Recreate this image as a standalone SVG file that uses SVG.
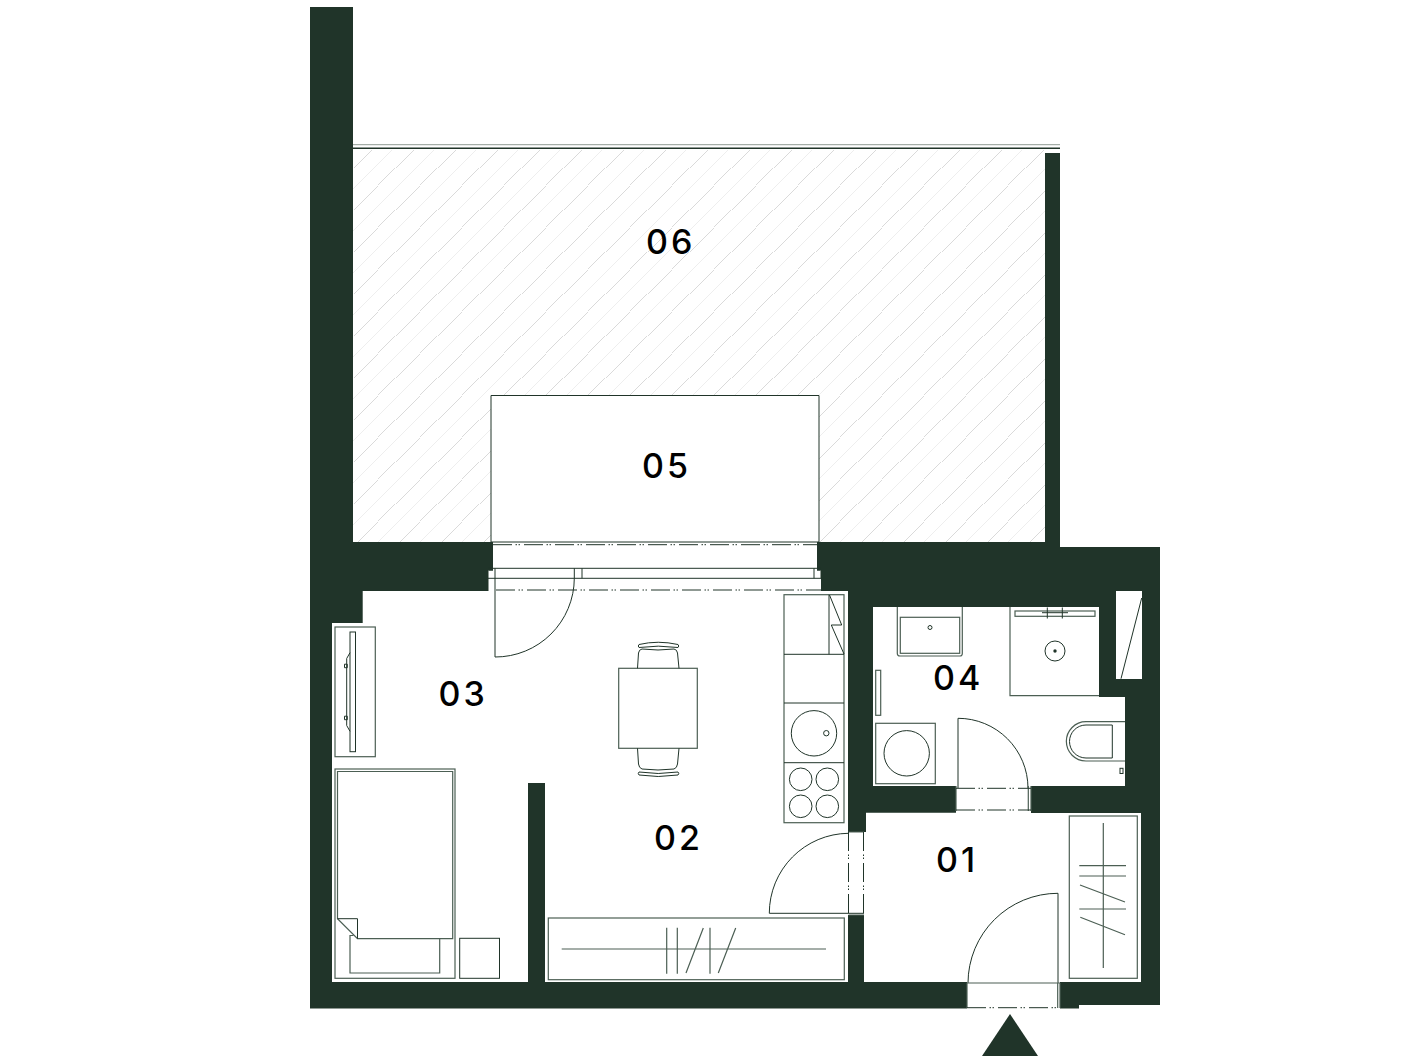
<svg xmlns="http://www.w3.org/2000/svg" width="1418" height="1056" viewBox="0 0 1418 1056">
<style>
.wall{fill:#203429}
.l{fill:none;stroke:#203429;stroke-width:1}
.w{fill:#fff;stroke:#203429;stroke-width:1}
.g{fill:none;stroke:#4c5f54;stroke-width:1.2}
.dd{fill:none;stroke:#203429;stroke-width:1;stroke-dasharray:19 3.5 1.5 1.5 1.5 4}
.t{font-family:"Inter","Liberation Sans",sans-serif;font-size:34px;font-weight:500;letter-spacing:3px;fill:#000}
</style>
<defs>
<pattern id="hatch" patternUnits="userSpaceOnUse" width="42" height="42">
<path d="M-1 18L18 -1M17 43L43 17" fill="none" stroke="#d6d6d6" stroke-width="0.9"/>
<path d="M-1 39L39 -1M37 43L43 37" fill="none" stroke="#ececec" stroke-width="0.9"/>
</pattern>
</defs>
<rect width="1418" height="1056" fill="#fff"/>
<g id="room-06">
<rect x="353" y="150" width="692" height="392" fill="url(#hatch)"/>
<path d="M353 144.7H1060" fill="none" stroke="#8f9a93" stroke-width="1"/>
<path d="M353 148.3H1060" fill="none" stroke="#203429" stroke-width="1.4"/>
<text class="t" x="646" y="254">06</text>
</g>
<g id="room-05">
<path d="M491 542V395.5H819V542Z" class="w"/>
<text class="t" x="642" y="478">05</text>
</g>
<g id="walls">
<path class="wall" d="M310 7H353V542H493V570.7H488V591H362.7V623H332V982H528V783H545V982H848V915H864V982H967V1008.5H310Z"/>
<path class="wall" fill-rule="evenodd" d="M817 542H1045V153H1060V547H1160V1005H1079V1008.5H1060V982H1141V813H1031V786H1125V697H1099V607H873V786H956V812.7H866V832H848V591H821V570.7H817ZM1116 591V679H1142V591Z"/>
</g>
<g id="balcony-door">
<path class="dd" d="M493 544.7H817"/>
<path class="l" d="M488 568.3H821M488 578.3H821M488 571V591M814 568.3V578.3M574.3 568.3V578.3M582 568.3V578.3M821 571V578.3"/>
<path class="dd" d="M496 590H821"/>
<path class="l" d="M495 568.3V657A79 79 0 0 0 574.3 578.3"/>
</g>
<g id="room-03">
<rect class="g" x="335" y="627" width="40.3" height="129.7"/>
<rect class="l" x="350" y="632" width="5.5" height="119.7"/>
<path class="l" d="M350 652.7L346.7 658.5V725.5L350 731.3M344.5 664.2H347.3V667.7H344.5ZM344.5 716.2H347.3V719.7H344.5Z"/>
<rect class="g" x="335" y="769" width="120" height="209.3"/>
<path class="g" d="M337.5 771.5H452.7V938.7H357.5L337.5 918.7Z"/>
<path class="l" d="M337.5 918.7H357.5V938.7"/>
<path class="g" d="M439.7 938.7V973H350V935.5H353.5"/>
<rect class="l" x="459.7" y="938.3" width="39.8" height="40"/>
<text class="t" x="438.5" y="705.7">03</text>
</g>
<g id="room-02">
<rect class="g" x="618.7" y="668.3" width="78.6" height="80"/>
<path class="l" d="M637.5 668.3L638.5 653Q639 649.5 642 649Q658 651 674 649Q677 649.5 677.5 653L679 668.3"/>
<path class="l" d="M639 644.5Q658 640 678 644.5Q679.5 646 678 647.5Q658 644.8 639 647.5Q637.5 646 639 644.5Z"/>
<path class="l" d="M637.5 748.3L638.5 764Q639 768 642 769Q658 771 674 769Q677 768 677.5 764L679 748.3"/>
<path class="l" d="M639 772Q658 775 678 772Q679.5 773.5 678 775Q658 778 639 775Q637.5 773.5 639 772Z"/>
<rect class="g" x="784" y="594.7" width="60" height="228"/>
<path class="l" d="M784 654.3H844M784 703H844M784 762.7H844M829 594.7V654.3M829.5 595L841.7 625H831.3L844 654"/>
<circle class="l" cx="814" cy="733.3" r="22.7"/>
<circle class="l" cx="826.3" cy="733.2" r="2.7"/>
<circle class="l" cx="800.7" cy="779.3" r="11.3"/>
<circle class="l" cx="827.3" cy="779.3" r="11.3"/>
<circle class="l" cx="800.7" cy="806.3" r="11.3"/>
<circle class="l" cx="827.3" cy="806.3" r="11.3"/>
<rect class="g" x="548.3" y="918" width="296" height="61.7"/>
<path class="g" d="M561.7 949H826M666.7 927.7V973.7M677.3 927.7V973.7M710 927.7V973.7M686 973L703.3 928M718.3 973L735.7 928"/>
<path class="l" d="M848.5 833.3A80 80 0 0 0 769.3 913.3H864"/>
<path class="g" d="M848.5 832H864M848.5 915H864"/>
<path class="dd" d="M848.5 832V915M863.5 832V915"/>
<text class="t" x="654" y="850">02</text>
</g>
<g id="room-04">
<path class="g" d="M897.3 607V653.5Q897.3 656 900 656H960Q962.3 656 962.3 653.5V607"/>
<rect class="g" x="900.3" y="617.3" width="59.4" height="36"/>
<circle class="l" cx="930" cy="627.5" r="2"/>
<path class="g" d="M1010 607V695.7H1099"/>
<rect class="g" x="1015" y="611" width="80" height="5.3"/>
<path class="l" d="M1047.3 607.5V618.5M1062.3 607.5V618.5M1042 612.7H1068"/>
<circle class="l" cx="1055" cy="651" r="10"/>
<circle cx="1055" cy="651" r="1.7" fill="#203429"/>
<path class="l" d="M1141.7 598L1121 678.7"/>
<rect class="g" x="875.7" y="670.3" width="5" height="45"/>
<rect class="g" x="875.7" y="723.3" width="59.6" height="60.4"/>
<circle class="l" cx="906.7" cy="753.3" r="22.7"/>
<path class="l" d="M958 788V718.3A70 70 0 0 1 1028 788"/>
<path class="g" d="M956 786V811M1028.3 786V811M1031 786V811"/>
<path class="dd" d="M956 788.3H1031M956 810H1031"/>
<path class="g" d="M1125 721.7H1086A19.6 19.6 0 0 0 1086 761H1125"/>
<path class="l" d="M1086 725H1112.3V758H1086A16.5 16.5 0 0 1 1086 725"/>
<rect class="l" x="1120" y="768.3" width="3" height="5.2"/>
<text class="t" x="933" y="690">04</text>
</g>
<g id="room-01">
<rect class="g" x="1069.3" y="816" width="68" height="162.3"/>
<path class="g" d="M1103.3 823V968M1079.3 865.7H1126M1079.3 876H1126M1079.3 909H1126M1080 885L1125 902M1080.3 917.3L1125 934.7"/>
<path class="l" d="M1058 983V893.3A90 90 0 0 0 968 983"/>
<path class="g" d="M966.7 983H1060M967 983V1008M1057.7 983V1008M1060 983V1008"/>
<path class="dd" d="M967 1007.7H1060"/>
<text class="t" x="936" y="871.7">01</text>
</g>
<polygon id="entrance" class="wall" points="1010,1014 1038,1056 982,1056"/>
</svg>
